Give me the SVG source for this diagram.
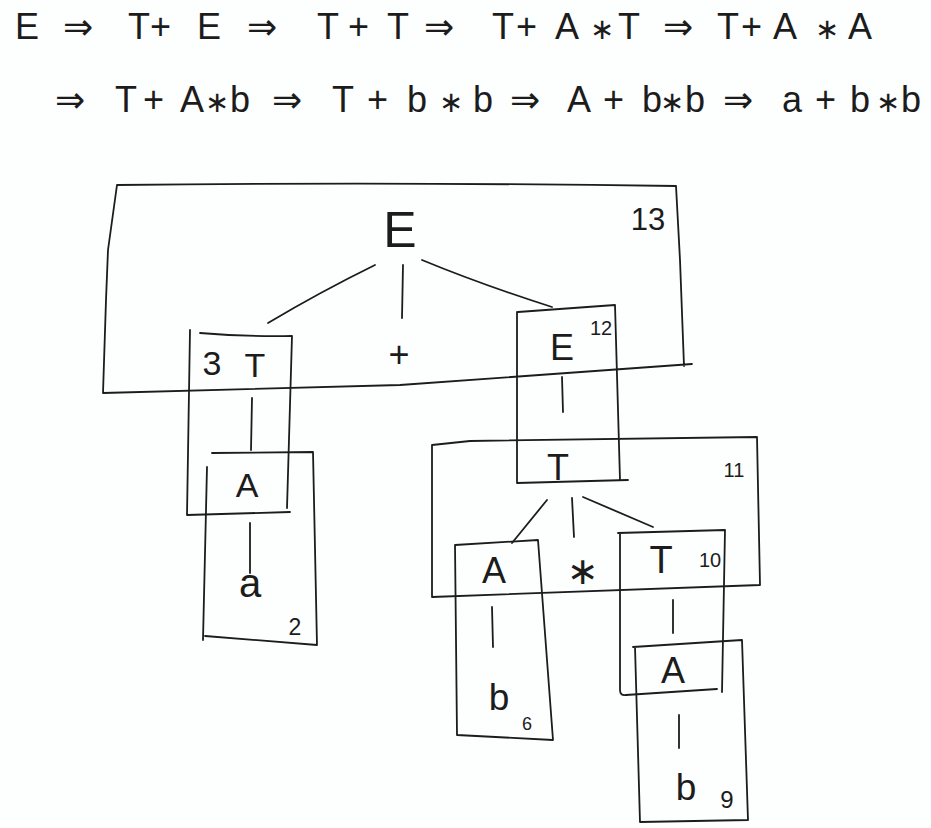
<svg xmlns="http://www.w3.org/2000/svg" width="931" height="828" viewBox="0 0 931 828">
<style>
  .bg { fill: #fdfefe; }
  .ink { fill: none; stroke: #1c1c1c; stroke-width: 1.8; stroke-linecap: round; stroke-linejoin: round; }
  .t { font-family: "Liberation Sans", "DejaVu Sans", sans-serif; fill: #1c1c1c; text-anchor: middle; }
  .d { font-family: "Liberation Sans", "DejaVu Sans", sans-serif; fill: #1c1c1c; font-size: 36px; }
  .st { font-family: "DejaVu Sans", sans-serif; font-size: 29px; }
  .s { font-family: "DejaVu Sans", sans-serif; fill: #1c1c1c; text-anchor: middle; }
</style>
<rect class="bg" x="0" y="0" width="931" height="828"/>

<g id="derivation">
  <text class="d" y="39"><tspan x="15">E</tspan> <tspan x="63">⇒</tspan> <tspan x="128">T+</tspan><tspan x="197">E</tspan> <tspan x="247">⇒</tspan> <tspan x="317">T</tspan><tspan x="348">+</tspan><tspan x="387">T</tspan> <tspan x="424">⇒</tspan> <tspan x="492">T</tspan><tspan x="516">+</tspan><tspan x="555">A</tspan><tspan x="590" class="st">∗</tspan><tspan x="618">T</tspan> <tspan x="663">⇒</tspan> <tspan x="717">T</tspan><tspan x="741">+</tspan><tspan x="773">A</tspan><tspan x="815" class="st">∗</tspan><tspan x="848">A</tspan></text>
  <text class="d" y="112"><tspan x="55">⇒</tspan> <tspan x="115">T</tspan><tspan x="143">+</tspan><tspan x="180">A</tspan><tspan x="205" class="st">∗</tspan><tspan x="230">b</tspan> <tspan x="272">⇒</tspan> <tspan x="332">T</tspan><tspan x="367">+</tspan><tspan x="407">b</tspan><tspan x="439" class="st">∗</tspan><tspan x="473">b</tspan> <tspan x="510">⇒</tspan> <tspan x="567">A</tspan><tspan x="603">+</tspan><tspan x="642">b</tspan><tspan x="660" class="st">∗</tspan><tspan x="685">b</tspan> <tspan x="723">⇒</tspan> <tspan x="782">a</tspan><tspan x="815">+</tspan><tspan x="850">b</tspan><tspan x="876" class="st">∗</tspan><tspan x="901">b</tspan></text>
</g>

<g id="connectors">
  <path class="ink" d="M375,265 Q320,292 268,323"/>
  <path class="ink" d="M403,265 L402,318"/>
  <path class="ink" d="M422,260 Q480,284 552,307"/>
  <path class="ink" d="M252,398 L251,450"/>
  <path class="ink" d="M250,523 L250,573"/>
  <path class="ink" d="M562,377 L563,412"/>
  <path class="ink" d="M547,500 L512,543"/>
  <path class="ink" d="M572,498 L574,537"/>
  <path class="ink" d="M583,497 L653,527"/>
  <path class="ink" d="M492,607 L493,647"/>
  <path class="ink" d="M673,600 L673,633"/>
  <path class="ink" d="M679,715 L679,748"/>
</g>

<g id="node-E13">
  <path class="ink" d="M117,185 Q400,182 676,186 L680,260 L684,366 M692,364 L400,385 L103,393 L106,300 L108,250 L117,185"/>
  <text class="t" x="400" y="247" font-size="50">E</text>
  <text class="t" x="648" y="230" font-size="31">13</text>
</g>

<g id="node-T3">
  <path class="ink" d="M200,333 Q250,337 292,336 L287,508 M190,330 L187,515 L290,512"/>
  <text class="t" x="212" y="375" font-size="34">3</text>
  <text class="t" x="255" y="377" font-size="34">T</text>
</g>

<g id="node-plus">
  <text class="t" x="399" y="367" font-size="36">+</text>
</g>

<g id="node-E12">
  <path class="ink" d="M518,312 L615,305 L620,480 M517,312 L517,483 L628,480"/>
  <text class="t" x="562" y="360" font-size="36">E</text>
  <text class="t" x="601" y="335" font-size="20">12</text>
</g>

<g id="node-A2">
  <path class="ink" d="M212,453 L313,452 L317,645 L205,636 M207,467 L203,640"/>
  <text class="t" x="247" y="497" font-size="34">A</text>
  <text class="t" x="295" y="635" font-size="23">2</text>
</g>

<g id="node-a">
  <text class="t" x="250" y="597" font-size="40">a</text>
</g>

<g id="node-T11">
  <path class="ink" d="M432,445 L470,441 L757,437 L760,585 L432,597 Z"/>
  <text class="t" x="558" y="480" font-size="36">T</text>
  <text class="t" x="734" y="477" font-size="20">11</text>
</g>

<g id="node-A6">
  <path class="ink" d="M455,545 L538,540 L553,740 L457,735 Z"/>
  <text class="t" x="494" y="583" font-size="36">A</text>
  <text class="t" x="527" y="730" font-size="18">6</text>
</g>

<g id="node-b6">
  <text class="t" x="499" y="710" font-size="37">b</text>
</g>

<g id="node-star">
  <text class="s" x="583" y="584" font-size="38">∗</text>
</g>

<g id="node-T10">
  <path class="ink" d="M618,533 L725,530 L722,692 M620,533 L620,690 Q620,696 626,695 L717,689"/>
  <text class="t" x="661" y="573" font-size="38">T</text>
  <text class="t" x="710" y="567" font-size="20">10</text>
</g>

<g id="node-A9">
  <path class="ink" d="M633,647 L742,640 L748,820 L640,822 L635,647"/>
  <text class="t" x="673" y="683" font-size="36">A</text>
  <text class="t" x="727" y="808" font-size="24">9</text>
</g>

<g id="node-b9">
  <text class="t" x="686" y="800" font-size="37">b</text>
</g>
</svg>
